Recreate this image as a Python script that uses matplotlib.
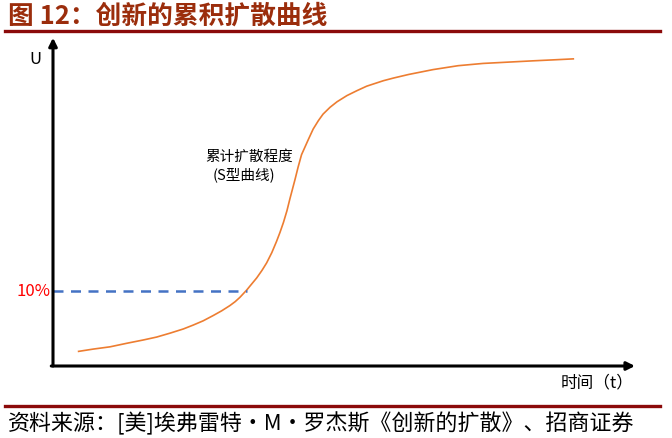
import matplotlib.pyplot as plt

plt.rcParams['font.family'] = ['Noto Sans CJK SC', 'DejaVu Sans']

# S-curve (time t, cumulative adoption U, both on a 0-100 scale)
t = [4.4, 6.9, 9.8, 12.7, 15.5, 17.8, 20.1, 22.4, 24.1, 25.8,
     27.5, 29.0, 30.4, 31.3, 32.1, 33.3, 33.8, 35.0, 35.9, 36.7,
     37.6, 38.4, 39.0, 39.6, 40.2, 40.7, 41.6, 42.1, 42.7, 43.9,
     44.7, 45.6, 46.4, 47.6, 48.8, 50.5, 52.2, 53.9, 56.8, 58.5,
     61.1, 65.3, 69.6, 73.9, 78.2, 82.5, 86.0, 89.4]
u = [4.5, 5.2, 5.9, 7.0, 8.0, 8.9, 10.1, 11.4, 12.6, 13.9,
     15.5, 17.0, 18.6, 19.8, 21.1, 23.4, 24.5, 27.1, 29.4, 31.7,
     34.9, 38.3, 41.1, 44.2, 47.8, 51.4, 57.5, 61.1, 65.0, 69.8,
     72.9, 75.5, 77.5, 79.6, 81.3, 83.2, 84.7, 86.1, 87.8, 88.6,
     89.7, 91.2, 92.4, 93.1, 93.5, 93.9, 94.2, 94.5]
level_10 = 23.2      # where the "10%" marker sits on the U axis
t_cross = 33.3       # dashed guide ends where it meets the curve

title = '图 12：创新的累积扩散曲线'
source = '资料来源：[美]埃弗雷特·M·罗杰斯《创新的扩散》、招商证券'

W, H = 672, 439
fig = plt.figure(figsize=(W / 100, H / 100), dpi=100)

# background axes in pixel units for title / source decoration
bg = fig.add_axes([0, 0, 1, 1])
bg.set_xlim(0, W)
bg.set_ylim(H, 0)
bg.axis('off')
bg.plot([5, 660], [32, 32], color='#8B0A0A', lw=2.4)
bg.plot([5, 660], [407, 407], color='#8B0A0A', lw=2.4)
bg.text(8, 16, title, fontsize=18.5, fontweight='bold', color='#9B2D0C', va='center', ha='left')
bg.text(8, 424, source, fontsize=15.8, color='black', va='center', ha='left')

# main chart axes: origin at (53, 367) px, top at 42 px, right at 635 px
x0, y0, x1, y1 = 53, 367, 635, 42
ax = fig.add_axes([x0 / W, (H - y0) / H, (x1 - x0) / W, (y0 - y1) / H])
ax.set_xlim(0, 100)
ax.set_ylim(0, 100)
ax.axis('off')

ax.plot(t, u, color='#ED7D31', lw=1.2, solid_joinstyle='round', clip_on=False)
ax.plot([0, t_cross], [level_10, level_10], color='#4472C4', lw=1.8, ls=(0, (4, 3)))

arrow = dict(arrowstyle='-|>', lw=2.2, color='black', mutation_scale=12, shrinkA=0, shrinkB=0)
ax.annotate('', xy=(0, 101), xytext=(0, 0), arrowprops=arrow, annotation_clip=False)
ax.annotate('', xy=(100, 0), xytext=(-0.3, 0), arrowprops=arrow, annotation_clip=False)

ax.text(-3.1, 94.5, 'U', fontsize=12, ha='center', va='center', clip_on=False)
ax.text(-0.5, level_10, '10%', fontsize=12, color='#FF0000', ha='right', va='center', clip_on=False)
ax.text(26.1, 64.6, '累计扩散程度', fontsize=10.5, ha='left', va='center')
ax.text(27.5, 59.1, '(S型曲线)', fontsize=10.5, ha='left', va='center')
ax.text(99.7, -5.0, '时间（t）', fontsize=12, ha='right', va='center', clip_on=False)

fig.savefig('out.png', dpi=100)
